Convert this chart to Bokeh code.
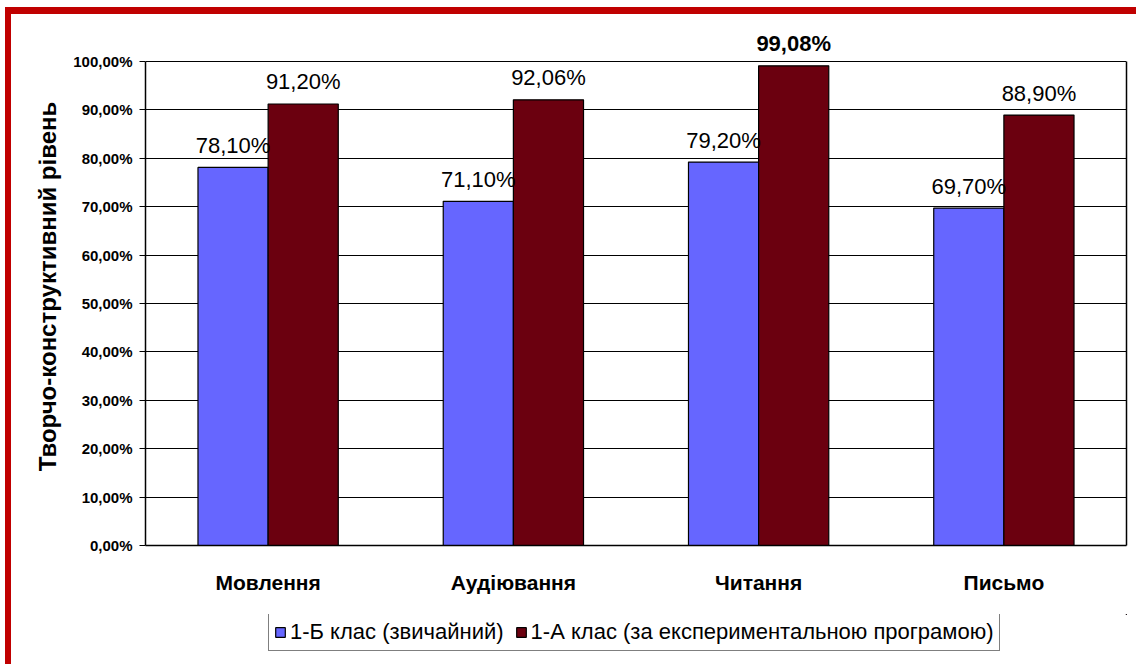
from bokeh.plotting import figure
from bokeh.layouts import column
from bokeh.models import (ColumnDataSource, FactorRange, FixedTicker, Legend, LegendItem,
                          Range1d, LinearAxis)
from bokeh.transform import dodge
from bokeh.core.properties import value
from bokeh.embed import file_html
from bokeh.resources import INLINE

categories = ["Мовлення", "Аудіювання", "Читання", "Письмо"]
series_names = ["1-Б клас (звичайний)", "1-А клас (за експериментальною програмою)"]
class_b = [78.10, 71.10, 79.20, 69.70]
class_a = [91.20, 92.06, 99.08, 88.90]
y_ticks = [0, 10, 20, 30, 40, 50, 60, 70, 80, 90, 100]
y_title = "Творчо-конструктивний рівень"
colors = ["#6666ff", "#6b000f"]

def fmt(v):
    return f"{v:.2f}%".replace(".", ",")

FONT = value("Liberation Sans")

src = ColumnDataSource(dict(
    cat=categories,
    b=class_b,
    a=class_a,
    b_lab=[fmt(v) for v in class_b],
    a_lab=[fmt(v) for v in class_a],
    a_style=["bold" if v == max(class_a) else "normal" for v in class_a],
))

W = 1125
p = figure(
    x_range=FactorRange(*categories, range_padding=0),
    y_range=Range1d(0, 107),
    width=W, height=600,
    output_backend="svg", toolbar_location=None,
    min_border_left=134, min_border_right=10, min_border_top=13, min_border_bottom=69,
)

bw = 0.286
rb = p.vbar(x=dodge("cat", -bw / 2, range=p.x_range), top="b", width=bw, source=src,
            fill_color=colors[0], line_color="black", line_width=1.2)
ra = p.vbar(x=dodge("cat", bw / 2, range=p.x_range), top="a", width=bw, source=src,
            fill_color=colors[1], line_color="black", line_width=1.2)

p.text(x=dodge("cat", -bw / 2, range=p.x_range), y="b", text="b_lab", source=src,
       text_align="center", text_baseline="alphabetic", y_offset=-22,
       text_font=FONT, text_font_size="22px", text_color="black")
p.text(x=dodge("cat", bw / 2, range=p.x_range), y="a", text="a_lab", source=src,
       text_align="center", text_baseline="alphabetic", y_offset=-22,
       text_font=FONT, text_font_size="22px", text_color="black", text_font_style="a_style")

# left axis
p.yaxis.ticker = FixedTicker(ticks=y_ticks)
p.yaxis.bounds = (y_ticks[0], y_ticks[-1])
p.yaxis.major_label_overrides = {t: fmt(t) for t in y_ticks}
p.yaxis.major_label_text_font = "Liberation Sans"
p.yaxis.major_label_text_font_style = "bold"
p.yaxis.major_label_text_font_size = "15px"
p.yaxis.major_label_text_color = "black"
p.yaxis.major_tick_out = 6
p.yaxis.major_tick_in = 0
p.yaxis.minor_tick_line_color = None
p.yaxis.major_label_standoff = 7
p.yaxis.axis_line_color = "black"
p.yaxis.axis_line_width = 1.5
p.yaxis.major_tick_line_color = "black"
p.yaxis.axis_label = y_title
p.yaxis.axis_label_text_font = "Liberation Sans"
p.yaxis.axis_label_text_font_style = "bold"
p.yaxis.axis_label_text_font_size = "24px"
p.yaxis.axis_label_text_color = "black"
p.yaxis.axis_label_standoff = 9

# right frame edge as a bare axis line
right = LinearAxis(ticker=FixedTicker(ticks=[]), bounds=(y_ticks[0], y_ticks[-1]),
                   major_tick_line_color=None, minor_tick_line_color=None,
                   axis_line_color="black", axis_line_width=1.5)
p.add_layout(right, "right")

p.xaxis.major_label_text_font = "Liberation Sans"
p.xaxis.major_label_text_font_style = "bold"
p.xaxis.major_label_text_font_size = "21px"
p.xaxis.major_label_text_color = "black"
p.xaxis.major_tick_line_color = None
p.xaxis.major_label_standoff = 19
p.xaxis.axis_line_color = "black"
p.xaxis.axis_line_width = 1.5

p.xgrid.grid_line_color = None
p.ygrid.ticker = FixedTicker(ticks=y_ticks)
p.ygrid.grid_line_color = "black"
p.ygrid.grid_line_width = 1.2

p.outline_line_color = None
p.background_fill_color = "white"
p.border_fill_color = "white"

# legend strip (its proxy bars fall outside its own ranges, so only the legend shows)
p2 = figure(width=W, height=50, output_backend="svg", toolbar_location=None,
            x_axis_location=None, y_axis_location=None,
            x_range=Range1d(0, 1), y_range=Range1d(0, 1),
            min_border=0, min_border_left=0, min_border_right=0,
            min_border_top=0, min_border_bottom=0)
p2.grid.grid_line_color = None
p2.outline_line_color = None
p2.background_fill_color = "white"
p2.border_fill_color = "white"
lb = p2.vbar(x="b", top="b", bottom="b", width=0.1, source=src,
             fill_color=colors[0], line_color="black", line_width=1.2)
la = p2.vbar(x="a", top="a", bottom="a", width=0.1, source=src,
             fill_color=colors[1], line_color="black", line_width=1.2)

legend = Legend(
    items=[LegendItem(label=series_names[0], renderers=[lb]),
           LegendItem(label=series_names[1], renderers=[la])],
    orientation="horizontal",
    location=(123, 13),
    label_text_font="Liberation Sans",
    label_text_font_size="22px",
    label_text_color="black",
    glyph_width=12, glyph_height=12,
    label_standoff=4, spacing=11, padding=5, margin=0,
    border_line_color="black", border_line_width=1.5,
    background_fill_color="white", background_fill_alpha=1,
    label_height=24,
)
p2.add_layout(legend)

layout = column(p, p2, spacing=0)
layout.styles = {"margin-left": "5px", "margin-top": "7px",
                 "border-top": "7px solid #c00000", "border-left": "6px solid #c00000",
                 "background-color": "white"}

open("out.html", "w").write(file_html(layout, INLINE))
